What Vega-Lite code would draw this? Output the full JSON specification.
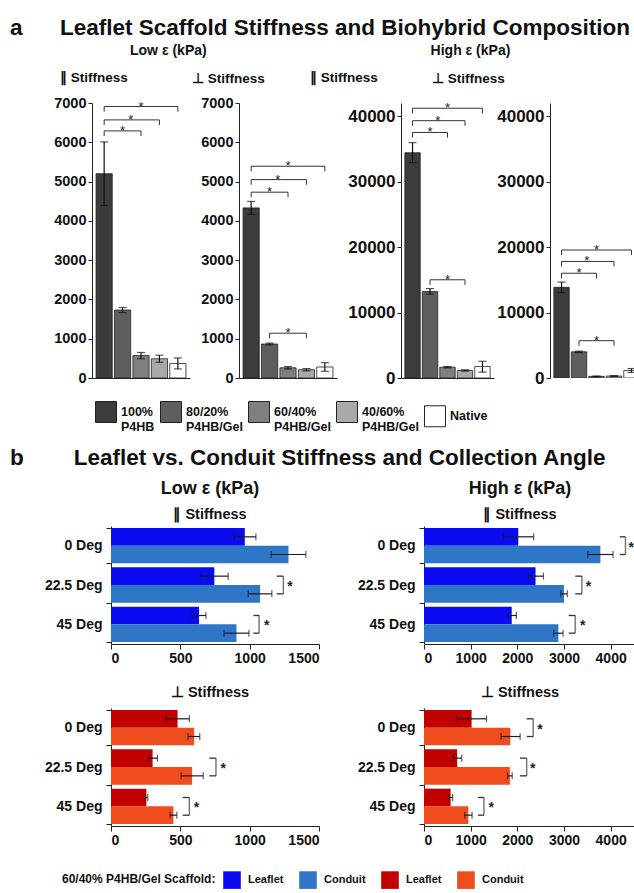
{
"$schema": "https://vega.github.io/schema/vega-lite/v6.json",
"padding": {"left": 10, "top": 17, "right": 0, "bottom": 0},
"config": {
  "view": {"stroke": null},
  "font": "Liberation Sans, Arial, sans-serif",
  "title": {"font": "Liberation Sans, Arial, sans-serif", "fontWeight": "bold", "color": "#111", "subtitleFont": "Liberation Sans, Arial, sans-serif", "subtitleFontWeight": "bold", "subtitleColor": "#111"},
  "axis": {"labelFont": "Liberation Sans, Arial, sans-serif", "labelFontWeight": "bold", "labelColor": "#111", "labelFontSize": 14, "labelOverlap": false, "domainColor": "#222", "tickColor": "#222", "grid": false},
  "legend": {"labelFont": "Liberation Sans, Arial, sans-serif", "titleFont": "Liberation Sans, Arial, sans-serif", "labelColor": "#111", "titleColor": "#111"}
},
"datasets": {
  "topbars": [
    {"panel": "Lpar", "cat": "100% P4HB", "value": 5200, "lo": 4390, "hi": 6010},
    {"panel": "Lpar", "cat": "80/20% P4HB/Gel", "value": 1730, "lo": 1665, "hi": 1795},
    {"panel": "Lpar", "cat": "60/40% P4HB/Gel", "value": 570, "lo": 490, "hi": 650},
    {"panel": "Lpar", "cat": "40/60% P4HB/Gel", "value": 490, "lo": 400, "hi": 580},
    {"panel": "Lpar", "cat": "Native", "value": 370, "lo": 230, "hi": 510},
    {"panel": "Lperp", "cat": "100% P4HB", "value": 4330, "lo": 4165, "hi": 4495},
    {"panel": "Lperp", "cat": "80/20% P4HB/Gel", "value": 865, "lo": 840, "hi": 890},
    {"panel": "Lperp", "cat": "60/40% P4HB/Gel", "value": 260, "lo": 230, "hi": 290},
    {"panel": "Lperp", "cat": "40/60% P4HB/Gel", "value": 210, "lo": 180, "hi": 240},
    {"panel": "Lperp", "cat": "Native", "value": 280, "lo": 170, "hi": 390},
    {"panel": "Hpar", "cat": "100% P4HB", "value": 34400, "lo": 32900, "hi": 35950},
    {"panel": "Hpar", "cat": "80/20% P4HB/Gel", "value": 13200, "lo": 12800, "hi": 13650},
    {"panel": "Hpar", "cat": "60/40% P4HB/Gel", "value": 1650, "lo": 1550, "hi": 1750},
    {"panel": "Hpar", "cat": "40/60% P4HB/Gel", "value": 1150, "lo": 1050, "hi": 1250},
    {"panel": "Hpar", "cat": "Native", "value": 1750, "lo": 900, "hi": 2550},
    {"panel": "Hperp", "cat": "100% P4HB", "value": 13850, "lo": 13050, "hi": 14650},
    {"panel": "Hperp", "cat": "80/20% P4HB/Gel", "value": 4000, "lo": 3900, "hi": 4100},
    {"panel": "Hperp", "cat": "60/40% P4HB/Gel", "value": 250, "lo": 190, "hi": 310},
    {"panel": "Hperp", "cat": "40/60% P4HB/Gel", "value": 300, "lo": 240, "hi": 360},
    {"panel": "Hperp", "cat": "Native", "value": 1150, "lo": 850, "hi": 1450}
  ],
  "topbr": [
    {"panel": "Lpar", "from": "100% P4HB", "to": "60/40% P4HB/Gel", "y": 6290, "ylo": 6160, "star": "80/20% P4HB/Gel", "edge": false},
    {"panel": "Lpar", "from": "100% P4HB", "to": "40/60% P4HB/Gel", "y": 6570, "ylo": 6440, "star": "80/20% P4HB/Gel", "edge": true},
    {"panel": "Lpar", "from": "100% P4HB", "to": "Native", "y": 6910, "ylo": 6780, "star": "60/40% P4HB/Gel", "edge": false},
    {"panel": "Lperp", "from": "100% P4HB", "to": "60/40% P4HB/Gel", "y": 4730, "ylo": 4600, "star": "80/20% P4HB/Gel", "edge": false},
    {"panel": "Lperp", "from": "100% P4HB", "to": "40/60% P4HB/Gel", "y": 5050, "ylo": 4920, "star": "80/20% P4HB/Gel", "edge": true},
    {"panel": "Lperp", "from": "100% P4HB", "to": "Native", "y": 5390, "ylo": 5260, "star": "60/40% P4HB/Gel", "edge": false},
    {"panel": "Lperp", "from": "80/20% P4HB/Gel", "to": "40/60% P4HB/Gel", "y": 1140, "ylo": 1010, "star": "60/40% P4HB/Gel", "edge": false},
    {"panel": "Hpar", "from": "100% P4HB", "to": "60/40% P4HB/Gel", "y": 37500, "ylo": 36720, "star": "80/20% P4HB/Gel", "edge": false},
    {"panel": "Hpar", "from": "100% P4HB", "to": "40/60% P4HB/Gel", "y": 39300, "ylo": 38520, "star": "80/20% P4HB/Gel", "edge": true},
    {"panel": "Hpar", "from": "100% P4HB", "to": "Native", "y": 41200, "ylo": 40420, "star": "60/40% P4HB/Gel", "edge": false},
    {"panel": "Hpar", "from": "80/20% P4HB/Gel", "to": "40/60% P4HB/Gel", "y": 15000, "ylo": 14220, "star": "60/40% P4HB/Gel", "edge": false},
    {"panel": "Hperp", "from": "100% P4HB", "to": "60/40% P4HB/Gel", "y": 16000, "ylo": 15220, "star": "80/20% P4HB/Gel", "edge": false},
    {"panel": "Hperp", "from": "100% P4HB", "to": "40/60% P4HB/Gel", "y": 17800, "ylo": 17020, "star": "80/20% P4HB/Gel", "edge": true},
    {"panel": "Hperp", "from": "100% P4HB", "to": "Native", "y": 19550, "ylo": 18770, "star": "60/40% P4HB/Gel", "edge": false},
    {"panel": "Hperp", "from": "80/20% P4HB/Gel", "to": "40/60% P4HB/Gel", "y": 5700, "ylo": 4920, "star": "60/40% P4HB/Gel", "edge": false}
  ],
  "bot": [
    {"panel": "Lpar", "angle": "0 Deg", "tissue": "Leaflet", "series": "Leaflet ∥", "value": 965, "lo": 885, "hi": 1045},
    {"panel": "Lpar", "angle": "0 Deg", "tissue": "Conduit", "series": "Conduit ∥", "value": 1280, "lo": 1155, "hi": 1405},
    {"panel": "Lpar", "angle": "22.5 Deg", "tissue": "Leaflet", "series": "Leaflet ∥", "value": 745, "lo": 645, "hi": 845},
    {"panel": "Lpar", "angle": "22.5 Deg", "tissue": "Conduit", "series": "Conduit ∥", "value": 1075, "lo": 990, "hi": 1160},
    {"panel": "Lpar", "angle": "45 Deg", "tissue": "Leaflet", "series": "Leaflet ∥", "value": 635, "lo": 585, "hi": 685},
    {"panel": "Lpar", "angle": "45 Deg", "tissue": "Conduit", "series": "Conduit ∥", "value": 905, "lo": 815, "hi": 995},
    {"panel": "Hpar", "angle": "0 Deg", "tissue": "Leaflet", "series": "Leaflet ∥", "value": 2020, "lo": 1700, "hi": 2350},
    {"panel": "Hpar", "angle": "0 Deg", "tissue": "Conduit", "series": "Conduit ∥", "value": 3780, "lo": 3510, "hi": 4050},
    {"panel": "Hpar", "angle": "22.5 Deg", "tissue": "Leaflet", "series": "Leaflet ∥", "value": 2390, "lo": 2240, "hi": 2560},
    {"panel": "Hpar", "angle": "22.5 Deg", "tissue": "Conduit", "series": "Conduit ∥", "value": 3000, "lo": 2930, "hi": 3070},
    {"panel": "Hpar", "angle": "45 Deg", "tissue": "Leaflet", "series": "Leaflet ∥", "value": 1880, "lo": 1800, "hi": 1980},
    {"panel": "Hpar", "angle": "45 Deg", "tissue": "Conduit", "series": "Conduit ∥", "value": 2880, "lo": 2780, "hi": 2980},
    {"panel": "Lperp", "angle": "0 Deg", "tissue": "Leaflet", "series": "Leaflet ⊥", "value": 480, "lo": 395, "hi": 565},
    {"panel": "Lperp", "angle": "0 Deg", "tissue": "Conduit", "series": "Conduit ⊥", "value": 600, "lo": 555, "hi": 640},
    {"panel": "Lperp", "angle": "22.5 Deg", "tissue": "Leaflet", "series": "Leaflet ⊥", "value": 300, "lo": 270, "hi": 335},
    {"panel": "Lperp", "angle": "22.5 Deg", "tissue": "Conduit", "series": "Conduit ⊥", "value": 585, "lo": 505, "hi": 665},
    {"panel": "Lperp", "angle": "45 Deg", "tissue": "Leaflet", "series": "Leaflet ⊥", "value": 255, "lo": 245, "hi": 265},
    {"panel": "Lperp", "angle": "45 Deg", "tissue": "Conduit", "series": "Conduit ⊥", "value": 450, "lo": 425, "hi": 475},
    {"panel": "Hperp", "angle": "0 Deg", "tissue": "Leaflet", "series": "Leaflet ⊥", "value": 1020, "lo": 710, "hi": 1340},
    {"panel": "Hperp", "angle": "0 Deg", "tissue": "Conduit", "series": "Conduit ⊥", "value": 1850, "lo": 1650, "hi": 2060},
    {"panel": "Hperp", "angle": "22.5 Deg", "tissue": "Leaflet", "series": "Leaflet ⊥", "value": 710, "lo": 630, "hi": 810},
    {"panel": "Hperp", "angle": "22.5 Deg", "tissue": "Conduit", "series": "Conduit ⊥", "value": 1840, "lo": 1790, "hi": 1890},
    {"panel": "Hperp", "angle": "45 Deg", "tissue": "Leaflet", "series": "Leaflet ⊥", "value": 570, "lo": 530, "hi": 615},
    {"panel": "Hperp", "angle": "45 Deg", "tissue": "Conduit", "series": "Conduit ⊥", "value": 950, "lo": 870, "hi": 1030}
  ],
  "botbr": [
    {"panel": "Lpar", "angle": "22.5 Deg", "left": 1195, "right": 1243, "star": 1291},
    {"panel": "Lpar", "angle": "45 Deg", "left": 1027, "right": 1068, "star": 1123},
    {"panel": "Hpar", "angle": "0 Deg", "left": 4195, "right": 4317, "star": 4440},
    {"panel": "Hpar", "angle": "22.5 Deg", "left": 3240, "right": 3383, "star": 3525},
    {"panel": "Hpar", "angle": "45 Deg", "left": 3100, "right": 3240, "star": 3400},
    {"panel": "Lperp", "angle": "22.5 Deg", "left": 709, "right": 757, "star": 810},
    {"panel": "Lperp", "angle": "45 Deg", "left": 517, "right": 565, "star": 616},
    {"panel": "Hperp", "angle": "0 Deg", "left": 2200, "right": 2340, "star": 2485},
    {"panel": "Hperp", "angle": "22.5 Deg", "left": 2055, "right": 2200, "star": 2328},
    {"panel": "Hperp", "angle": "45 Deg", "left": 1156, "right": 1285, "star": 1443}
  ]
},
"resolve": {"scale": {"color": "independent"}},
"spacing": 14,
"vconcat": [
{
  "title": {"text": "a\u00a0\u00a0\u00a0\u00a0\u00a0\u00a0Leaflet Scaffold Stiffness and Biohybrid Composition", "anchor": "start", "frame": "group", "dx": -82, "fontSize": 22.5, "offset": 4},
  "bounds": "flush",
  "spacing": 49,
  "hconcat": [
    {
      "width": 98, "height": 275,
      "title": {"text": "\u200b\u00a0\u00a0\u00a0\u00a0\u00a0\u00a0\u00a0\u00a0\u00a0\u00a0\u00a0\u00a0\u00a0\u00a0\u00a0\u00a0\u00a0\u00a0Low ε (kPa)", "subtitle": "∥ Stiffness", "anchor": "start", "frame": "group", "dx": -32, "fontSize": 14, "subtitleFontSize": 13.5, "subtitlePadding": 13, "offset": 11},
      "layer": [
        {"data": {"name": "topbars"}, "transform": [{"filter": "datum.panel==='Lpar'"}],
         "mark": {"type": "bar", "stroke": "#222", "strokeWidth": 0.8},
         "encoding": {
           "x": {"field": "cat", "type": "nominal", "title": null, "scale": {"domain": ["100% P4HB","80/20% P4HB/Gel","60/40% P4HB/Gel","40/60% P4HB/Gel","Native"], "paddingInner": 0.12, "paddingOuter": 0.22}, "axis": {"labels": false, "ticks": false, "title": null}},
           "y": {"field": "value", "type": "quantitative", "title": null, "scale": {"domain": [0, 7000]}, "axis": {"values": [0,1000,2000,3000,4000,5000,6000,7000], "tickCount": 10, "format": "d", "tickSize": 4, "labelPadding": 2, "labelFontSize": 14.5, "labelOverlap": false, "title": null}},
           "color": {"field": "cat", "type": "nominal", "scale": {"domain": ["100% P4HB","80/20% P4HB/Gel","60/40% P4HB/Gel","40/60% P4HB/Gel","Native"], "range": ["#3c3c3c","#5e5e5e","#7f7f7f","#a9a9a9","#ffffff"]}, "legend": {"orient": "none", "legendX": 3, "legendY": 298, "direction": "horizontal", "title": null, "symbolType": "square", "symbolSize": 440, "symbolStrokeColor": "#222", "symbolStrokeWidth": 1, "labelFontSize": 12.5, "labelFontWeight": "bold", "labelExpr": "split(datum.label, ' ')", "columnPadding": 3, "labelOffset": 4}}
         }},
        {"data": {"name": "topbars"}, "transform": [{"filter": "datum.panel==='Lpar'"}],
         "mark": {"type": "rule", "color": "#111", "strokeWidth": 1.2},
         "encoding": {
           "x": {"field": "cat", "type": "nominal", "title": null, "scale": {"domain": ["100% P4HB","80/20% P4HB/Gel","60/40% P4HB/Gel","40/60% P4HB/Gel","Native"], "paddingInner": 0.12, "paddingOuter": 0.22}},
           "y": {"field": "lo", "type": "quantitative", "title": null, "scale": {"domain": [0, 7000]}},
           "y2": {"field": "hi"}
         }},
        {"data": {"name": "topbars"}, "transform": [{"filter": "datum.panel==='Lpar'"}],
         "mark": {"type": "tick", "color": "#111", "size": 8, "thickness": 1.2},
         "encoding": {
           "x": {"field": "cat", "type": "nominal", "title": null, "scale": {"domain": ["100% P4HB","80/20% P4HB/Gel","60/40% P4HB/Gel","40/60% P4HB/Gel","Native"], "paddingInner": 0.12, "paddingOuter": 0.22}},
           "y": {"field": "lo", "type": "quantitative", "title": null, "scale": {"domain": [0, 7000]}}
         }},
        {"data": {"name": "topbars"}, "transform": [{"filter": "datum.panel==='Lpar'"}],
         "mark": {"type": "tick", "color": "#111", "size": 8, "thickness": 1.2},
         "encoding": {
           "x": {"field": "cat", "type": "nominal", "title": null, "scale": {"domain": ["100% P4HB","80/20% P4HB/Gel","60/40% P4HB/Gel","40/60% P4HB/Gel","Native"], "paddingInner": 0.12, "paddingOuter": 0.22}},
           "y": {"field": "hi", "type": "quantitative", "title": null, "scale": {"domain": [0, 7000]}}
         }},
        {"data": {"name": "topbr"}, "transform": [{"filter": "datum.panel==='Lpar'"}],
         "mark": {"type": "rule", "color": "#333", "strokeWidth": 1},
         "encoding": {
           "x": {"field": "from", "type": "nominal", "title": null, "scale": {"domain": ["100% P4HB","80/20% P4HB/Gel","60/40% P4HB/Gel","40/60% P4HB/Gel","Native"], "paddingInner": 0.12, "paddingOuter": 0.22}},
           "x2": {"field": "to"},
           "y": {"field": "y", "type": "quantitative", "title": null, "scale": {"domain": [0, 7000]}}
         }},
        {"data": {"name": "topbr"}, "transform": [{"filter": "datum.panel==='Lpar'"}],
         "mark": {"type": "rule", "color": "#333", "strokeWidth": 1},
         "encoding": {
           "x": {"field": "from", "type": "nominal", "title": null, "scale": {"domain": ["100% P4HB","80/20% P4HB/Gel","60/40% P4HB/Gel","40/60% P4HB/Gel","Native"], "paddingInner": 0.12, "paddingOuter": 0.22}},
           "y": {"field": "ylo", "type": "quantitative", "title": null, "scale": {"domain": [0, 7000]}},
           "y2": {"field": "y"}
         }},
        {"data": {"name": "topbr"}, "transform": [{"filter": "datum.panel==='Lpar'"}],
         "mark": {"type": "rule", "color": "#333", "strokeWidth": 1},
         "encoding": {
           "x": {"field": "to", "type": "nominal", "title": null, "scale": {"domain": ["100% P4HB","80/20% P4HB/Gel","60/40% P4HB/Gel","40/60% P4HB/Gel","Native"], "paddingInner": 0.12, "paddingOuter": 0.22}},
           "y": {"field": "ylo", "type": "quantitative", "title": null, "scale": {"domain": [0, 7000]}},
           "y2": {"field": "y"}
         }},
        {"data": {"name": "topbr"}, "transform": [{"filter": "datum.panel==='Lpar' && !datum.edge"}],
         "mark": {"type": "text", "text": "*", "fontSize": 13, "dy": 4, "baseline": "alphabetic", "color": "#222"},
         "encoding": {
           "x": {"field": "star", "type": "nominal", "title": null, "scale": {"domain": ["100% P4HB","80/20% P4HB/Gel","60/40% P4HB/Gel","40/60% P4HB/Gel","Native"], "paddingInner": 0.12, "paddingOuter": 0.22}},
           "y": {"field": "y", "type": "quantitative", "title": null, "scale": {"domain": [0, 7000]}}
         }},
        {"data": {"name": "topbr"}, "transform": [{"filter": "datum.panel==='Lpar' && datum.edge"}],
         "mark": {"type": "text", "text": "*", "fontSize": 13, "dy": 4, "baseline": "alphabetic", "color": "#222"},
         "encoding": {
           "x": {"field": "star", "type": "nominal", "title": null, "bandPosition": 1, "scale": {"domain": ["100% P4HB","80/20% P4HB/Gel","60/40% P4HB/Gel","40/60% P4HB/Gel","Native"], "paddingInner": 0.12, "paddingOuter": 0.22}},
           "y": {"field": "y", "type": "quantitative", "title": null, "scale": {"domain": [0, 7000]}}
         }}
      ]
    },
    {
      "width": 113, "height": 275,
      "title": {"text": "⊥ Stiffness", "anchor": "start", "frame": "group", "dx": -47, "fontSize": 13.5, "offset": 10},
      "layer": [
        {"data": {"name": "topbars"}, "transform": [{"filter": "datum.panel==='Lperp'"}],
         "mark": {"type": "bar", "stroke": "#222", "strokeWidth": 0.8},
         "encoding": {
           "x": {"field": "cat", "type": "nominal", "title": null, "scale": {"domain": ["100% P4HB","80/20% P4HB/Gel","60/40% P4HB/Gel","40/60% P4HB/Gel","Native"], "paddingInner": 0.12, "paddingOuter": 0.22, "range": [0, 98]}, "axis": {"labels": false, "ticks": false, "title": null}},
           "y": {"field": "value", "type": "quantitative", "title": null, "scale": {"domain": [0, 7000]}, "axis": {"values": [0,1000,2000,3000,4000,5000,6000,7000], "tickCount": 10, "format": "d", "tickSize": 4, "labelPadding": 2, "labelFontSize": 14.5, "labelOverlap": false, "title": null}},
           "color": {"field": "cat", "type": "nominal", "scale": {"domain": ["100% P4HB","80/20% P4HB/Gel","60/40% P4HB/Gel","40/60% P4HB/Gel","Native"], "range": ["#3c3c3c","#5e5e5e","#7f7f7f","#a9a9a9","#ffffff"]}, "legend": {"orient": "none", "legendX": 3, "legendY": 298, "direction": "horizontal", "title": null, "symbolType": "square", "symbolSize": 440, "symbolStrokeColor": "#222", "symbolStrokeWidth": 1, "labelFontSize": 12.5, "labelFontWeight": "bold", "labelExpr": "split(datum.label, ' ')", "columnPadding": 3, "labelOffset": 4}}
         }},
        {"data": {"name": "topbars"}, "transform": [{"filter": "datum.panel==='Lperp'"}],
         "mark": {"type": "rule", "color": "#111", "strokeWidth": 1.2},
         "encoding": {
           "x": {"field": "cat", "type": "nominal", "title": null, "scale": {"domain": ["100% P4HB","80/20% P4HB/Gel","60/40% P4HB/Gel","40/60% P4HB/Gel","Native"], "paddingInner": 0.12, "paddingOuter": 0.22, "range": [0, 98]}},
           "y": {"field": "lo", "type": "quantitative", "title": null, "scale": {"domain": [0, 7000]}},
           "y2": {"field": "hi"}
         }},
        {"data": {"name": "topbars"}, "transform": [{"filter": "datum.panel==='Lperp'"}],
         "mark": {"type": "tick", "color": "#111", "size": 8, "thickness": 1.2},
         "encoding": {
           "x": {"field": "cat", "type": "nominal", "title": null, "scale": {"domain": ["100% P4HB","80/20% P4HB/Gel","60/40% P4HB/Gel","40/60% P4HB/Gel","Native"], "paddingInner": 0.12, "paddingOuter": 0.22, "range": [0, 98]}},
           "y": {"field": "lo", "type": "quantitative", "title": null, "scale": {"domain": [0, 7000]}}
         }},
        {"data": {"name": "topbars"}, "transform": [{"filter": "datum.panel==='Lperp'"}],
         "mark": {"type": "tick", "color": "#111", "size": 8, "thickness": 1.2},
         "encoding": {
           "x": {"field": "cat", "type": "nominal", "title": null, "scale": {"domain": ["100% P4HB","80/20% P4HB/Gel","60/40% P4HB/Gel","40/60% P4HB/Gel","Native"], "paddingInner": 0.12, "paddingOuter": 0.22, "range": [0, 98]}},
           "y": {"field": "hi", "type": "quantitative", "title": null, "scale": {"domain": [0, 7000]}}
         }},
        {"data": {"name": "topbr"}, "transform": [{"filter": "datum.panel==='Lperp'"}],
         "mark": {"type": "rule", "color": "#333", "strokeWidth": 1},
         "encoding": {
           "x": {"field": "from", "type": "nominal", "title": null, "scale": {"domain": ["100% P4HB","80/20% P4HB/Gel","60/40% P4HB/Gel","40/60% P4HB/Gel","Native"], "paddingInner": 0.12, "paddingOuter": 0.22, "range": [0, 98]}},
           "x2": {"field": "to"},
           "y": {"field": "y", "type": "quantitative", "title": null, "scale": {"domain": [0, 7000]}}
         }},
        {"data": {"name": "topbr"}, "transform": [{"filter": "datum.panel==='Lperp'"}],
         "mark": {"type": "rule", "color": "#333", "strokeWidth": 1},
         "encoding": {
           "x": {"field": "from", "type": "nominal", "title": null, "scale": {"domain": ["100% P4HB","80/20% P4HB/Gel","60/40% P4HB/Gel","40/60% P4HB/Gel","Native"], "paddingInner": 0.12, "paddingOuter": 0.22, "range": [0, 98]}},
           "y": {"field": "ylo", "type": "quantitative", "title": null, "scale": {"domain": [0, 7000]}},
           "y2": {"field": "y"}
         }},
        {"data": {"name": "topbr"}, "transform": [{"filter": "datum.panel==='Lperp'"}],
         "mark": {"type": "rule", "color": "#333", "strokeWidth": 1},
         "encoding": {
           "x": {"field": "to", "type": "nominal", "title": null, "scale": {"domain": ["100% P4HB","80/20% P4HB/Gel","60/40% P4HB/Gel","40/60% P4HB/Gel","Native"], "paddingInner": 0.12, "paddingOuter": 0.22, "range": [0, 98]}},
           "y": {"field": "ylo", "type": "quantitative", "title": null, "scale": {"domain": [0, 7000]}},
           "y2": {"field": "y"}
         }},
        {"data": {"name": "topbr"}, "transform": [{"filter": "datum.panel==='Lperp' && !datum.edge"}],
         "mark": {"type": "text", "text": "*", "fontSize": 13, "dy": 4, "baseline": "alphabetic", "color": "#222"},
         "encoding": {
           "x": {"field": "star", "type": "nominal", "title": null, "scale": {"domain": ["100% P4HB","80/20% P4HB/Gel","60/40% P4HB/Gel","40/60% P4HB/Gel","Native"], "paddingInner": 0.12, "paddingOuter": 0.22, "range": [0, 98]}},
           "y": {"field": "y", "type": "quantitative", "title": null, "scale": {"domain": [0, 7000]}}
         }},
        {"data": {"name": "topbr"}, "transform": [{"filter": "datum.panel==='Lperp' && datum.edge"}],
         "mark": {"type": "text", "text": "*", "fontSize": 13, "dy": 4, "baseline": "alphabetic", "color": "#222"},
         "encoding": {
           "x": {"field": "star", "type": "nominal", "title": null, "bandPosition": 1, "scale": {"domain": ["100% P4HB","80/20% P4HB/Gel","60/40% P4HB/Gel","40/60% P4HB/Gel","Native"], "paddingInner": 0.12, "paddingOuter": 0.22, "range": [0, 98]}},
           "y": {"field": "y", "type": "quantitative", "title": null, "scale": {"domain": [0, 7000]}}
         }}
      ]
    },
    {
      "width": 100, "height": 275,
      "title": {"text": "\u200b\u00a0\u00a0\u00a0\u00a0\u00a0\u00a0\u00a0\u00a0\u00a0\u00a0\u00a0\u00a0\u00a0\u00a0\u00a0\u00a0\u00a0\u00a0\u00a0\u00a0\u00a0\u00a0\u00a0\u00a0\u00a0\u00a0\u00a0\u00a0\u00a0\u00a0\u00a0High ε (kPa)", "subtitle": "∥ Stiffness", "anchor": "start", "frame": "group", "dx": -91, "fontSize": 14, "subtitleFontSize": 13.5, "subtitlePadding": 13, "offset": 18},
      "layer": [
        {"data": {"name": "topbars"}, "transform": [{"filter": "datum.panel==='Hpar'"}],
         "mark": {"type": "bar", "stroke": "#222", "strokeWidth": 0.8},
         "encoding": {
           "x": {"field": "cat", "type": "nominal", "title": null, "scale": {"domain": ["100% P4HB","80/20% P4HB/Gel","60/40% P4HB/Gel","40/60% P4HB/Gel","Native"], "paddingInner": 0.12, "paddingOuter": 0.22, "range": [0, 93]}, "axis": {"labels": false, "ticks": false, "title": null}},
           "y": {"field": "value", "type": "quantitative", "title": null, "scale": {"domain": [0, 42000]}, "axis": {"values": [0,10000,20000,30000,40000], "tickCount": 10, "format": "d", "tickSize": 4, "labelPadding": 2, "labelFontSize": 17, "title": null}},
           "color": {"field": "cat", "type": "nominal", "scale": {"domain": ["100% P4HB","80/20% P4HB/Gel","60/40% P4HB/Gel","40/60% P4HB/Gel","Native"], "range": ["#3c3c3c","#5e5e5e","#7f7f7f","#a9a9a9","#ffffff"]}, "legend": {"orient": "none", "legendX": 3, "legendY": 298, "direction": "horizontal", "title": null, "symbolType": "square", "symbolSize": 440, "symbolStrokeColor": "#222", "symbolStrokeWidth": 1, "labelFontSize": 12.5, "labelFontWeight": "bold", "labelExpr": "split(datum.label, ' ')", "columnPadding": 3, "labelOffset": 4}}
         }},
        {"data": {"name": "topbars"}, "transform": [{"filter": "datum.panel==='Hpar'"}],
         "mark": {"type": "rule", "color": "#111", "strokeWidth": 1.2},
         "encoding": {
           "x": {"field": "cat", "type": "nominal", "title": null, "scale": {"domain": ["100% P4HB","80/20% P4HB/Gel","60/40% P4HB/Gel","40/60% P4HB/Gel","Native"], "paddingInner": 0.12, "paddingOuter": 0.22, "range": [0, 93]}},
           "y": {"field": "lo", "type": "quantitative", "title": null, "scale": {"domain": [0, 42000]}},
           "y2": {"field": "hi"}
         }},
        {"data": {"name": "topbars"}, "transform": [{"filter": "datum.panel==='Hpar'"}],
         "mark": {"type": "tick", "color": "#111", "size": 8, "thickness": 1.2},
         "encoding": {
           "x": {"field": "cat", "type": "nominal", "title": null, "scale": {"domain": ["100% P4HB","80/20% P4HB/Gel","60/40% P4HB/Gel","40/60% P4HB/Gel","Native"], "paddingInner": 0.12, "paddingOuter": 0.22, "range": [0, 93]}},
           "y": {"field": "lo", "type": "quantitative", "title": null, "scale": {"domain": [0, 42000]}}
         }},
        {"data": {"name": "topbars"}, "transform": [{"filter": "datum.panel==='Hpar'"}],
         "mark": {"type": "tick", "color": "#111", "size": 8, "thickness": 1.2},
         "encoding": {
           "x": {"field": "cat", "type": "nominal", "title": null, "scale": {"domain": ["100% P4HB","80/20% P4HB/Gel","60/40% P4HB/Gel","40/60% P4HB/Gel","Native"], "paddingInner": 0.12, "paddingOuter": 0.22, "range": [0, 93]}},
           "y": {"field": "hi", "type": "quantitative", "title": null, "scale": {"domain": [0, 42000]}}
         }},
        {"data": {"name": "topbr"}, "transform": [{"filter": "datum.panel==='Hpar'"}],
         "mark": {"type": "rule", "color": "#333", "strokeWidth": 1},
         "encoding": {
           "x": {"field": "from", "type": "nominal", "title": null, "scale": {"domain": ["100% P4HB","80/20% P4HB/Gel","60/40% P4HB/Gel","40/60% P4HB/Gel","Native"], "paddingInner": 0.12, "paddingOuter": 0.22, "range": [0, 93]}},
           "x2": {"field": "to"},
           "y": {"field": "y", "type": "quantitative", "title": null, "scale": {"domain": [0, 42000]}}
         }},
        {"data": {"name": "topbr"}, "transform": [{"filter": "datum.panel==='Hpar'"}],
         "mark": {"type": "rule", "color": "#333", "strokeWidth": 1},
         "encoding": {
           "x": {"field": "from", "type": "nominal", "title": null, "scale": {"domain": ["100% P4HB","80/20% P4HB/Gel","60/40% P4HB/Gel","40/60% P4HB/Gel","Native"], "paddingInner": 0.12, "paddingOuter": 0.22, "range": [0, 93]}},
           "y": {"field": "ylo", "type": "quantitative", "title": null, "scale": {"domain": [0, 42000]}},
           "y2": {"field": "y"}
         }},
        {"data": {"name": "topbr"}, "transform": [{"filter": "datum.panel==='Hpar'"}],
         "mark": {"type": "rule", "color": "#333", "strokeWidth": 1},
         "encoding": {
           "x": {"field": "to", "type": "nominal", "title": null, "scale": {"domain": ["100% P4HB","80/20% P4HB/Gel","60/40% P4HB/Gel","40/60% P4HB/Gel","Native"], "paddingInner": 0.12, "paddingOuter": 0.22, "range": [0, 93]}},
           "y": {"field": "ylo", "type": "quantitative", "title": null, "scale": {"domain": [0, 42000]}},
           "y2": {"field": "y"}
         }},
        {"data": {"name": "topbr"}, "transform": [{"filter": "datum.panel==='Hpar' && !datum.edge"}],
         "mark": {"type": "text", "text": "*", "fontSize": 13, "dy": 4, "baseline": "alphabetic", "color": "#222"},
         "encoding": {
           "x": {"field": "star", "type": "nominal", "title": null, "scale": {"domain": ["100% P4HB","80/20% P4HB/Gel","60/40% P4HB/Gel","40/60% P4HB/Gel","Native"], "paddingInner": 0.12, "paddingOuter": 0.22, "range": [0, 93]}},
           "y": {"field": "y", "type": "quantitative", "title": null, "scale": {"domain": [0, 42000]}}
         }},
        {"data": {"name": "topbr"}, "transform": [{"filter": "datum.panel==='Hpar' && datum.edge"}],
         "mark": {"type": "text", "text": "*", "fontSize": 13, "dy": 4, "baseline": "alphabetic", "color": "#222"},
         "encoding": {
           "x": {"field": "star", "type": "nominal", "title": null, "bandPosition": 1, "scale": {"domain": ["100% P4HB","80/20% P4HB/Gel","60/40% P4HB/Gel","40/60% P4HB/Gel","Native"], "paddingInner": 0.12, "paddingOuter": 0.22, "range": [0, 93]}},
           "y": {"field": "y", "type": "quantitative", "title": null, "scale": {"domain": [0, 42000]}}
         }}
      ]
    },
    {
      "width": 84, "height": 275,
      "title": {"text": "⊥ Stiffness", "anchor": "start", "frame": "group", "dx": -118, "fontSize": 13.5, "offset": 18},
      "layer": [
        {"data": {"name": "topbars"}, "transform": [{"filter": "datum.panel==='Hperp'"}],
         "mark": {"type": "bar", "stroke": "#222", "strokeWidth": 0.8, "clip": true},
         "encoding": {
           "x": {"field": "cat", "type": "nominal", "title": null, "scale": {"domain": ["100% P4HB","80/20% P4HB/Gel","60/40% P4HB/Gel","40/60% P4HB/Gel","Native"], "paddingInner": 0.12, "paddingOuter": 0.22, "range": [0, 93]}, "axis": null},
           "y": {"field": "value", "type": "quantitative", "title": null, "scale": {"domain": [0, 42000]}, "axis": {"values": [0,10000,20000,30000,40000], "tickCount": 10, "format": "d", "tickSize": 4, "labelPadding": 2, "labelFontSize": 17, "title": null}},
           "color": {"field": "cat", "type": "nominal", "scale": {"domain": ["100% P4HB","80/20% P4HB/Gel","60/40% P4HB/Gel","40/60% P4HB/Gel","Native"], "range": ["#3c3c3c","#5e5e5e","#7f7f7f","#a9a9a9","#ffffff"]}, "legend": {"orient": "none", "legendX": 3, "legendY": 298, "direction": "horizontal", "title": null, "symbolType": "square", "symbolSize": 440, "symbolStrokeColor": "#222", "symbolStrokeWidth": 1, "labelFontSize": 12.5, "labelFontWeight": "bold", "labelExpr": "split(datum.label, ' ')", "columnPadding": 3, "labelOffset": 4}}
         }},
        {"data": {"name": "topbars"}, "transform": [{"filter": "datum.panel==='Hperp'"}],
         "mark": {"type": "rule", "color": "#111", "strokeWidth": 1.2, "clip": true},
         "encoding": {
           "x": {"field": "cat", "type": "nominal", "title": null, "scale": {"domain": ["100% P4HB","80/20% P4HB/Gel","60/40% P4HB/Gel","40/60% P4HB/Gel","Native"], "paddingInner": 0.12, "paddingOuter": 0.22, "range": [0, 93]}},
           "y": {"field": "lo", "type": "quantitative", "title": null, "scale": {"domain": [0, 42000]}},
           "y2": {"field": "hi"}
         }},
        {"data": {"name": "topbars"}, "transform": [{"filter": "datum.panel==='Hperp'"}],
         "mark": {"type": "tick", "color": "#111", "size": 8, "thickness": 1.2, "clip": true},
         "encoding": {
           "x": {"field": "cat", "type": "nominal", "title": null, "scale": {"domain": ["100% P4HB","80/20% P4HB/Gel","60/40% P4HB/Gel","40/60% P4HB/Gel","Native"], "paddingInner": 0.12, "paddingOuter": 0.22, "range": [0, 93]}},
           "y": {"field": "lo", "type": "quantitative", "title": null, "scale": {"domain": [0, 42000]}}
         }},
        {"data": {"name": "topbars"}, "transform": [{"filter": "datum.panel==='Hperp'"}],
         "mark": {"type": "tick", "color": "#111", "size": 8, "thickness": 1.2, "clip": true},
         "encoding": {
           "x": {"field": "cat", "type": "nominal", "title": null, "scale": {"domain": ["100% P4HB","80/20% P4HB/Gel","60/40% P4HB/Gel","40/60% P4HB/Gel","Native"], "paddingInner": 0.12, "paddingOuter": 0.22, "range": [0, 93]}},
           "y": {"field": "hi", "type": "quantitative", "title": null, "scale": {"domain": [0, 42000]}}
         }},
        {"data": {"name": "topbr"}, "transform": [{"filter": "datum.panel==='Hperp'"}],
         "mark": {"type": "rule", "color": "#333", "strokeWidth": 1, "clip": true},
         "encoding": {
           "x": {"field": "from", "type": "nominal", "title": null, "scale": {"domain": ["100% P4HB","80/20% P4HB/Gel","60/40% P4HB/Gel","40/60% P4HB/Gel","Native"], "paddingInner": 0.12, "paddingOuter": 0.22, "range": [0, 93]}},
           "x2": {"field": "to"},
           "y": {"field": "y", "type": "quantitative", "title": null, "scale": {"domain": [0, 42000]}}
         }},
        {"data": {"name": "topbr"}, "transform": [{"filter": "datum.panel==='Hperp'"}],
         "mark": {"type": "rule", "color": "#333", "strokeWidth": 1, "clip": true},
         "encoding": {
           "x": {"field": "from", "type": "nominal", "title": null, "scale": {"domain": ["100% P4HB","80/20% P4HB/Gel","60/40% P4HB/Gel","40/60% P4HB/Gel","Native"], "paddingInner": 0.12, "paddingOuter": 0.22, "range": [0, 93]}},
           "y": {"field": "ylo", "type": "quantitative", "title": null, "scale": {"domain": [0, 42000]}},
           "y2": {"field": "y"}
         }},
        {"data": {"name": "topbr"}, "transform": [{"filter": "datum.panel==='Hperp'"}],
         "mark": {"type": "rule", "color": "#333", "strokeWidth": 1, "clip": true},
         "encoding": {
           "x": {"field": "to", "type": "nominal", "title": null, "scale": {"domain": ["100% P4HB","80/20% P4HB/Gel","60/40% P4HB/Gel","40/60% P4HB/Gel","Native"], "paddingInner": 0.12, "paddingOuter": 0.22, "range": [0, 93]}},
           "y": {"field": "ylo", "type": "quantitative", "title": null, "scale": {"domain": [0, 42000]}},
           "y2": {"field": "y"}
         }},
        {"data": {"name": "topbr"}, "transform": [{"filter": "datum.panel==='Hperp' && !datum.edge"}],
         "mark": {"type": "text", "text": "*", "fontSize": 13, "dy": 4, "baseline": "alphabetic", "color": "#222", "clip": true},
         "encoding": {
           "x": {"field": "star", "type": "nominal", "title": null, "scale": {"domain": ["100% P4HB","80/20% P4HB/Gel","60/40% P4HB/Gel","40/60% P4HB/Gel","Native"], "paddingInner": 0.12, "paddingOuter": 0.22, "range": [0, 93]}},
           "y": {"field": "y", "type": "quantitative", "title": null, "scale": {"domain": [0, 42000]}}
         }},
        {"data": {"name": "topbr"}, "transform": [{"filter": "datum.panel==='Hperp' && datum.edge"}],
         "mark": {"type": "text", "text": "*", "fontSize": 13, "dy": 4, "baseline": "alphabetic", "color": "#222", "clip": true},
         "encoding": {
           "x": {"field": "star", "type": "nominal", "title": null, "bandPosition": 1, "scale": {"domain": ["100% P4HB","80/20% P4HB/Gel","60/40% P4HB/Gel","40/60% P4HB/Gel","Native"], "paddingInner": 0.12, "paddingOuter": 0.22, "range": [0, 93]}},
           "y": {"field": "y", "type": "quantitative", "title": null, "scale": {"domain": [0, 42000]}}
         }},
        {"mark": {"type": "rule", "color": "#222", "strokeWidth": 1},
         "encoding": {"y": {"datum": 0, "type": "quantitative", "scale": {"domain": [0, 42000]}}}}
      ]
    }
  ]
},
{
  "title": {"text": "b\u00a0\u00a0\u00a0\u00a0\u00a0\u00a0\u00a0\u00a0Leaflet vs. Conduit Stiffness and Collection Angle", "anchor": "start", "frame": "group", "dx": -82, "fontSize": 22.5, "offset": 10},
  "bounds": "flush",
  "columns": 2,
  "spacing": {"row": 64, "column": 105},
  "concat": [
    {
      "width": 227, "height": 118,
      "title": {"text": "Low ε (kPa)", "subtitle": "∥ Stiffness", "anchor": "middle", "frame": "group", "dx": 4.5, "fontSize": 18, "subtitleFontSize": 14.5, "subtitlePadding": 10, "offset": -2},
      "layer": [
        {"data": {"name": "bot"}, "transform": [{"filter": "datum.panel==='Lpar'"}],
         "mark": {"type": "bar"},
         "encoding": {
           "y": {"field": "angle", "type": "nominal", "title": null, "scale": {"domain": ["0 Deg","22.5 Deg","45 Deg"], "paddingInner": 0.1, "paddingOuter": 0.05}, "axis": {"title": null, "tickBand": "extent", "tickSize": 5, "labelPadding": 4, "offset": -19}},
           "yOffset": {"field": "tissue", "type": "nominal", "scale": {"domain": ["Leaflet","Conduit"]}},
           "x": {"field": "value", "type": "quantitative", "title": null, "scale": {"domain": [0, 1500], "range": [19, 227]}, "axis": {"values": [0,500,1000,1500], "format": "d", "tickSize": 5, "title": null}},
           "color": {"field": "series", "type": "nominal", "scale": {"domain": ["Leaflet ∥","Conduit ∥","Leaflet ⊥","Conduit ⊥"], "range": ["#0b0bf2","#2f76c6","#c20000","#ef4d1d"]}, "legend": {"orient": "none", "legendX": -30, "legendY": 344, "direction": "horizontal", "title": "60/40% P4HB/Gel Scaffold:", "titleOrient": "left", "titleFontSize": 12, "titleFontWeight": "bold", "titlePadding": 6, "titleLimit": 300, "titleAnchor": "middle", "titleBaseline": "middle", "symbolType": "square", "symbolSize": 310, "labelExpr": "split(datum.label, ' ')[0]", "labelFontSize": 11, "labelFontWeight": "bold", "columnPadding": 14, "labelOffset": 6}}
         }},
        {"data": {"name": "bot"}, "transform": [{"filter": "datum.panel==='Lpar'"}],
         "mark": {"type": "rule", "color": "#1a1a2a", "strokeWidth": 1.2},
         "encoding": {
           "y": {"field": "angle", "type": "nominal", "title": null, "scale": {"domain": ["0 Deg","22.5 Deg","45 Deg"], "paddingInner": 0.1, "paddingOuter": 0.05}},
           "yOffset": {"field": "tissue", "type": "nominal", "scale": {"domain": ["Leaflet","Conduit"]}},
           "x": {"field": "lo", "type": "quantitative", "title": null, "scale": {"domain": [0, 1500], "range": [19, 227]}},
           "x2": {"field": "hi"}
         }},
        {"data": {"name": "bot"}, "transform": [{"filter": "datum.panel==='Lpar'"}],
         "mark": {"type": "tick", "color": "#1a1a2a", "size": 7, "thickness": 1.2},
         "encoding": {
           "y": {"field": "angle", "type": "nominal", "title": null, "scale": {"domain": ["0 Deg","22.5 Deg","45 Deg"], "paddingInner": 0.1, "paddingOuter": 0.05}},
           "yOffset": {"field": "tissue", "type": "nominal", "scale": {"domain": ["Leaflet","Conduit"]}},
           "x": {"field": "lo", "type": "quantitative", "title": null, "scale": {"domain": [0, 1500], "range": [19, 227]}}
         }},
        {"data": {"name": "bot"}, "transform": [{"filter": "datum.panel==='Lpar'"}],
         "mark": {"type": "tick", "color": "#1a1a2a", "size": 7, "thickness": 1.2},
         "encoding": {
           "y": {"field": "angle", "type": "nominal", "title": null, "scale": {"domain": ["0 Deg","22.5 Deg","45 Deg"], "paddingInner": 0.1, "paddingOuter": 0.05}},
           "yOffset": {"field": "tissue", "type": "nominal", "scale": {"domain": ["Leaflet","Conduit"]}},
           "x": {"field": "hi", "type": "quantitative", "title": null, "scale": {"domain": [0, 1500], "range": [19, 227]}}
         }},
        {"data": {"name": "botbr"}, "transform": [{"filter": "datum.panel==='Lpar'"}],
         "mark": {"type": "rule", "color": "#333", "strokeWidth": 1.3},
         "encoding": {
           "y": {"field": "angle", "type": "nominal", "title": null, "scale": {"domain": ["0 Deg","22.5 Deg","45 Deg"], "paddingInner": 0.1, "paddingOuter": 0.05}},
           "yOffset": {"datum": "Leaflet", "scale": {"domain": ["Leaflet","Conduit"]}},
           "x": {"field": "left", "type": "quantitative", "title": null, "scale": {"domain": [0, 1500], "range": [19, 227]}},
           "x2": {"field": "right"}
         }},
        {"data": {"name": "botbr"}, "transform": [{"filter": "datum.panel==='Lpar'"}],
         "mark": {"type": "rule", "color": "#333", "strokeWidth": 1.3},
         "encoding": {
           "y": {"field": "angle", "type": "nominal", "title": null, "scale": {"domain": ["0 Deg","22.5 Deg","45 Deg"], "paddingInner": 0.1, "paddingOuter": 0.05}},
           "yOffset": {"datum": "Conduit", "scale": {"domain": ["Leaflet","Conduit"]}},
           "x": {"field": "left", "type": "quantitative", "title": null, "scale": {"domain": [0, 1500], "range": [19, 227]}},
           "x2": {"field": "right"}
         }},
        {"data": {"name": "botbr"}, "transform": [{"filter": "datum.panel==='Lpar'"}],
         "mark": {"type": "tick", "color": "#333", "size": 18, "thickness": 1.4},
         "encoding": {
           "y": {"field": "angle", "type": "nominal", "title": null, "scale": {"domain": ["0 Deg","22.5 Deg","45 Deg"], "paddingInner": 0.1, "paddingOuter": 0.05}},
           "x": {"field": "right", "type": "quantitative", "title": null, "scale": {"domain": [0, 1500], "range": [19, 227]}}
         }},
        {"data": {"name": "botbr"}, "transform": [{"filter": "datum.panel==='Lpar'"}],
         "mark": {"type": "text", "text": "*", "fontSize": 14, "fontWeight": "bold", "dy": 6, "baseline": "alphabetic", "color": "#222", "clip": true},
         "encoding": {
           "y": {"field": "angle", "type": "nominal", "title": null, "scale": {"domain": ["0 Deg","22.5 Deg","45 Deg"], "paddingInner": 0.1, "paddingOuter": 0.05}},
           "x": {"field": "star", "type": "quantitative", "title": null, "scale": {"domain": [0, 1500], "range": [19, 227]}}
         }}
      ]
    },
    {
      "width": 210, "height": 118,
      "title": {"text": "High ε (kPa)", "subtitle": "∥ Stiffness", "anchor": "middle", "frame": "group", "dx": -9, "fontSize": 18, "subtitleFontSize": 14.5, "subtitlePadding": 10, "offset": -2},
      "layer": [
        {"data": {"name": "bot"}, "transform": [{"filter": "datum.panel==='Hpar'"}],
         "mark": {"type": "bar"},
         "encoding": {
           "y": {"field": "angle", "type": "nominal", "title": null, "scale": {"domain": ["0 Deg","22.5 Deg","45 Deg"], "paddingInner": 0.1, "paddingOuter": 0.05}, "axis": {"title": null, "tickBand": "extent", "tickSize": 5, "labelPadding": 4}},
           "yOffset": {"field": "tissue", "type": "nominal", "scale": {"domain": ["Leaflet","Conduit"]}},
           "x": {"field": "value", "type": "quantitative", "title": null, "scale": {"domain": [0, 4500]}, "axis": {"values": [0,1000,2000,3000,4000], "format": "d", "tickSize": 5, "title": null}},
           "color": {"field": "series", "type": "nominal", "scale": {"domain": ["Leaflet ∥","Conduit ∥","Leaflet ⊥","Conduit ⊥"], "range": ["#0b0bf2","#2f76c6","#c20000","#ef4d1d"]}, "legend": {"orient": "none", "legendX": -30, "legendY": 344, "direction": "horizontal", "title": "60/40% P4HB/Gel Scaffold:", "titleOrient": "left", "titleFontSize": 12, "titleFontWeight": "bold", "titlePadding": 6, "titleLimit": 300, "titleAnchor": "middle", "titleBaseline": "middle", "symbolType": "square", "symbolSize": 310, "labelExpr": "split(datum.label, ' ')[0]", "labelFontSize": 11, "labelFontWeight": "bold", "columnPadding": 14, "labelOffset": 6}}
         }},
        {"data": {"name": "bot"}, "transform": [{"filter": "datum.panel==='Hpar'"}],
         "mark": {"type": "rule", "color": "#1a1a2a", "strokeWidth": 1.2},
         "encoding": {
           "y": {"field": "angle", "type": "nominal", "title": null, "scale": {"domain": ["0 Deg","22.5 Deg","45 Deg"], "paddingInner": 0.1, "paddingOuter": 0.05}},
           "yOffset": {"field": "tissue", "type": "nominal", "scale": {"domain": ["Leaflet","Conduit"]}},
           "x": {"field": "lo", "type": "quantitative", "title": null, "scale": {"domain": [0, 4500]}},
           "x2": {"field": "hi"}
         }},
        {"data": {"name": "bot"}, "transform": [{"filter": "datum.panel==='Hpar'"}],
         "mark": {"type": "tick", "color": "#1a1a2a", "size": 7, "thickness": 1.2},
         "encoding": {
           "y": {"field": "angle", "type": "nominal", "title": null, "scale": {"domain": ["0 Deg","22.5 Deg","45 Deg"], "paddingInner": 0.1, "paddingOuter": 0.05}},
           "yOffset": {"field": "tissue", "type": "nominal", "scale": {"domain": ["Leaflet","Conduit"]}},
           "x": {"field": "lo", "type": "quantitative", "title": null, "scale": {"domain": [0, 4500]}}
         }},
        {"data": {"name": "bot"}, "transform": [{"filter": "datum.panel==='Hpar'"}],
         "mark": {"type": "tick", "color": "#1a1a2a", "size": 7, "thickness": 1.2},
         "encoding": {
           "y": {"field": "angle", "type": "nominal", "title": null, "scale": {"domain": ["0 Deg","22.5 Deg","45 Deg"], "paddingInner": 0.1, "paddingOuter": 0.05}},
           "yOffset": {"field": "tissue", "type": "nominal", "scale": {"domain": ["Leaflet","Conduit"]}},
           "x": {"field": "hi", "type": "quantitative", "title": null, "scale": {"domain": [0, 4500]}}
         }},
        {"data": {"name": "botbr"}, "transform": [{"filter": "datum.panel==='Hpar'"}],
         "mark": {"type": "rule", "color": "#333", "strokeWidth": 1.3},
         "encoding": {
           "y": {"field": "angle", "type": "nominal", "title": null, "scale": {"domain": ["0 Deg","22.5 Deg","45 Deg"], "paddingInner": 0.1, "paddingOuter": 0.05}},
           "yOffset": {"datum": "Leaflet", "scale": {"domain": ["Leaflet","Conduit"]}},
           "x": {"field": "left", "type": "quantitative", "title": null, "scale": {"domain": [0, 4500]}},
           "x2": {"field": "right"}
         }},
        {"data": {"name": "botbr"}, "transform": [{"filter": "datum.panel==='Hpar'"}],
         "mark": {"type": "rule", "color": "#333", "strokeWidth": 1.3},
         "encoding": {
           "y": {"field": "angle", "type": "nominal", "title": null, "scale": {"domain": ["0 Deg","22.5 Deg","45 Deg"], "paddingInner": 0.1, "paddingOuter": 0.05}},
           "yOffset": {"datum": "Conduit", "scale": {"domain": ["Leaflet","Conduit"]}},
           "x": {"field": "left", "type": "quantitative", "title": null, "scale": {"domain": [0, 4500]}},
           "x2": {"field": "right"}
         }},
        {"data": {"name": "botbr"}, "transform": [{"filter": "datum.panel==='Hpar'"}],
         "mark": {"type": "tick", "color": "#333", "size": 18, "thickness": 1.4},
         "encoding": {
           "y": {"field": "angle", "type": "nominal", "title": null, "scale": {"domain": ["0 Deg","22.5 Deg","45 Deg"], "paddingInner": 0.1, "paddingOuter": 0.05}},
           "x": {"field": "right", "type": "quantitative", "title": null, "scale": {"domain": [0, 4500]}}
         }},
        {"data": {"name": "botbr"}, "transform": [{"filter": "datum.panel==='Hpar'"}],
         "mark": {"type": "text", "text": "*", "fontSize": 14, "fontWeight": "bold", "dy": 6, "baseline": "alphabetic", "color": "#222", "clip": true},
         "encoding": {
           "y": {"field": "angle", "type": "nominal", "title": null, "scale": {"domain": ["0 Deg","22.5 Deg","45 Deg"], "paddingInner": 0.1, "paddingOuter": 0.05}},
           "x": {"field": "star", "type": "quantitative", "title": null, "scale": {"domain": [0, 4500]}}
         }}
      ]
    },
    {
      "width": 227, "height": 118,
      "title": {"text": "⊥ Stiffness", "anchor": "middle", "frame": "group", "dx": 4.5, "fontSize": 14.5, "offset": 1},
      "layer": [
        {"data": {"name": "bot"}, "transform": [{"filter": "datum.panel==='Lperp'"}],
         "mark": {"type": "bar"},
         "encoding": {
           "y": {"field": "angle", "type": "nominal", "title": null, "scale": {"domain": ["0 Deg","22.5 Deg","45 Deg"], "paddingInner": 0.1, "paddingOuter": 0.05}, "axis": {"title": null, "tickBand": "extent", "tickSize": 5, "labelPadding": 4, "offset": -19}},
           "yOffset": {"field": "tissue", "type": "nominal", "scale": {"domain": ["Leaflet","Conduit"]}},
           "x": {"field": "value", "type": "quantitative", "title": null, "scale": {"domain": [0, 1500], "range": [19, 227]}, "axis": {"values": [0,500,1000,1500], "format": "d", "tickSize": 5, "title": null}},
           "color": {"field": "series", "type": "nominal", "scale": {"domain": ["Leaflet ∥","Conduit ∥","Leaflet ⊥","Conduit ⊥"], "range": ["#0b0bf2","#2f76c6","#c20000","#ef4d1d"]}, "legend": {"orient": "none", "legendX": -30, "legendY": 344, "direction": "horizontal", "title": "60/40% P4HB/Gel Scaffold:", "titleOrient": "left", "titleFontSize": 12, "titleFontWeight": "bold", "titlePadding": 6, "titleLimit": 300, "titleAnchor": "middle", "titleBaseline": "middle", "symbolType": "square", "symbolSize": 310, "labelExpr": "split(datum.label, ' ')[0]", "labelFontSize": 11, "labelFontWeight": "bold", "columnPadding": 14, "labelOffset": 6}}
         }},
        {"data": {"name": "bot"}, "transform": [{"filter": "datum.panel==='Lperp'"}],
         "mark": {"type": "rule", "color": "#1a1a2a", "strokeWidth": 1.2},
         "encoding": {
           "y": {"field": "angle", "type": "nominal", "title": null, "scale": {"domain": ["0 Deg","22.5 Deg","45 Deg"], "paddingInner": 0.1, "paddingOuter": 0.05}},
           "yOffset": {"field": "tissue", "type": "nominal", "scale": {"domain": ["Leaflet","Conduit"]}},
           "x": {"field": "lo", "type": "quantitative", "title": null, "scale": {"domain": [0, 1500], "range": [19, 227]}},
           "x2": {"field": "hi"}
         }},
        {"data": {"name": "bot"}, "transform": [{"filter": "datum.panel==='Lperp'"}],
         "mark": {"type": "tick", "color": "#1a1a2a", "size": 7, "thickness": 1.2},
         "encoding": {
           "y": {"field": "angle", "type": "nominal", "title": null, "scale": {"domain": ["0 Deg","22.5 Deg","45 Deg"], "paddingInner": 0.1, "paddingOuter": 0.05}},
           "yOffset": {"field": "tissue", "type": "nominal", "scale": {"domain": ["Leaflet","Conduit"]}},
           "x": {"field": "lo", "type": "quantitative", "title": null, "scale": {"domain": [0, 1500], "range": [19, 227]}}
         }},
        {"data": {"name": "bot"}, "transform": [{"filter": "datum.panel==='Lperp'"}],
         "mark": {"type": "tick", "color": "#1a1a2a", "size": 7, "thickness": 1.2},
         "encoding": {
           "y": {"field": "angle", "type": "nominal", "title": null, "scale": {"domain": ["0 Deg","22.5 Deg","45 Deg"], "paddingInner": 0.1, "paddingOuter": 0.05}},
           "yOffset": {"field": "tissue", "type": "nominal", "scale": {"domain": ["Leaflet","Conduit"]}},
           "x": {"field": "hi", "type": "quantitative", "title": null, "scale": {"domain": [0, 1500], "range": [19, 227]}}
         }},
        {"data": {"name": "botbr"}, "transform": [{"filter": "datum.panel==='Lperp'"}],
         "mark": {"type": "rule", "color": "#333", "strokeWidth": 1.3},
         "encoding": {
           "y": {"field": "angle", "type": "nominal", "title": null, "scale": {"domain": ["0 Deg","22.5 Deg","45 Deg"], "paddingInner": 0.1, "paddingOuter": 0.05}},
           "yOffset": {"datum": "Leaflet", "scale": {"domain": ["Leaflet","Conduit"]}},
           "x": {"field": "left", "type": "quantitative", "title": null, "scale": {"domain": [0, 1500], "range": [19, 227]}},
           "x2": {"field": "right"}
         }},
        {"data": {"name": "botbr"}, "transform": [{"filter": "datum.panel==='Lperp'"}],
         "mark": {"type": "rule", "color": "#333", "strokeWidth": 1.3},
         "encoding": {
           "y": {"field": "angle", "type": "nominal", "title": null, "scale": {"domain": ["0 Deg","22.5 Deg","45 Deg"], "paddingInner": 0.1, "paddingOuter": 0.05}},
           "yOffset": {"datum": "Conduit", "scale": {"domain": ["Leaflet","Conduit"]}},
           "x": {"field": "left", "type": "quantitative", "title": null, "scale": {"domain": [0, 1500], "range": [19, 227]}},
           "x2": {"field": "right"}
         }},
        {"data": {"name": "botbr"}, "transform": [{"filter": "datum.panel==='Lperp'"}],
         "mark": {"type": "tick", "color": "#333", "size": 18, "thickness": 1.4},
         "encoding": {
           "y": {"field": "angle", "type": "nominal", "title": null, "scale": {"domain": ["0 Deg","22.5 Deg","45 Deg"], "paddingInner": 0.1, "paddingOuter": 0.05}},
           "x": {"field": "right", "type": "quantitative", "title": null, "scale": {"domain": [0, 1500], "range": [19, 227]}}
         }},
        {"data": {"name": "botbr"}, "transform": [{"filter": "datum.panel==='Lperp'"}],
         "mark": {"type": "text", "text": "*", "fontSize": 14, "fontWeight": "bold", "dy": 6, "baseline": "alphabetic", "color": "#222", "clip": true},
         "encoding": {
           "y": {"field": "angle", "type": "nominal", "title": null, "scale": {"domain": ["0 Deg","22.5 Deg","45 Deg"], "paddingInner": 0.1, "paddingOuter": 0.05}},
           "x": {"field": "star", "type": "quantitative", "title": null, "scale": {"domain": [0, 1500], "range": [19, 227]}}
         }}
      ]
    },
    {
      "width": 210, "height": 118,
      "title": {"text": "⊥ Stiffness", "anchor": "middle", "frame": "group", "dx": -9, "fontSize": 14.5, "offset": 1},
      "layer": [
        {"data": {"name": "bot"}, "transform": [{"filter": "datum.panel==='Hperp'"}],
         "mark": {"type": "bar"},
         "encoding": {
           "y": {"field": "angle", "type": "nominal", "title": null, "scale": {"domain": ["0 Deg","22.5 Deg","45 Deg"], "paddingInner": 0.1, "paddingOuter": 0.05}, "axis": {"title": null, "tickBand": "extent", "tickSize": 5, "labelPadding": 4}},
           "yOffset": {"field": "tissue", "type": "nominal", "scale": {"domain": ["Leaflet","Conduit"]}},
           "x": {"field": "value", "type": "quantitative", "title": null, "scale": {"domain": [0, 4500]}, "axis": {"values": [0,1000,2000,3000,4000], "format": "d", "tickSize": 5, "title": null}},
           "color": {"field": "series", "type": "nominal", "scale": {"domain": ["Leaflet ∥","Conduit ∥","Leaflet ⊥","Conduit ⊥"], "range": ["#0b0bf2","#2f76c6","#c20000","#ef4d1d"]}, "legend": {"orient": "none", "legendX": -30, "legendY": 344, "direction": "horizontal", "title": "60/40% P4HB/Gel Scaffold:", "titleOrient": "left", "titleFontSize": 12, "titleFontWeight": "bold", "titlePadding": 6, "titleLimit": 300, "titleAnchor": "middle", "titleBaseline": "middle", "symbolType": "square", "symbolSize": 310, "labelExpr": "split(datum.label, ' ')[0]", "labelFontSize": 11, "labelFontWeight": "bold", "columnPadding": 14, "labelOffset": 6}}
         }},
        {"data": {"name": "bot"}, "transform": [{"filter": "datum.panel==='Hperp'"}],
         "mark": {"type": "rule", "color": "#1a1a2a", "strokeWidth": 1.2},
         "encoding": {
           "y": {"field": "angle", "type": "nominal", "title": null, "scale": {"domain": ["0 Deg","22.5 Deg","45 Deg"], "paddingInner": 0.1, "paddingOuter": 0.05}},
           "yOffset": {"field": "tissue", "type": "nominal", "scale": {"domain": ["Leaflet","Conduit"]}},
           "x": {"field": "lo", "type": "quantitative", "title": null, "scale": {"domain": [0, 4500]}},
           "x2": {"field": "hi"}
         }},
        {"data": {"name": "bot"}, "transform": [{"filter": "datum.panel==='Hperp'"}],
         "mark": {"type": "tick", "color": "#1a1a2a", "size": 7, "thickness": 1.2},
         "encoding": {
           "y": {"field": "angle", "type": "nominal", "title": null, "scale": {"domain": ["0 Deg","22.5 Deg","45 Deg"], "paddingInner": 0.1, "paddingOuter": 0.05}},
           "yOffset": {"field": "tissue", "type": "nominal", "scale": {"domain": ["Leaflet","Conduit"]}},
           "x": {"field": "lo", "type": "quantitative", "title": null, "scale": {"domain": [0, 4500]}}
         }},
        {"data": {"name": "bot"}, "transform": [{"filter": "datum.panel==='Hperp'"}],
         "mark": {"type": "tick", "color": "#1a1a2a", "size": 7, "thickness": 1.2},
         "encoding": {
           "y": {"field": "angle", "type": "nominal", "title": null, "scale": {"domain": ["0 Deg","22.5 Deg","45 Deg"], "paddingInner": 0.1, "paddingOuter": 0.05}},
           "yOffset": {"field": "tissue", "type": "nominal", "scale": {"domain": ["Leaflet","Conduit"]}},
           "x": {"field": "hi", "type": "quantitative", "title": null, "scale": {"domain": [0, 4500]}}
         }},
        {"data": {"name": "botbr"}, "transform": [{"filter": "datum.panel==='Hperp'"}],
         "mark": {"type": "rule", "color": "#333", "strokeWidth": 1.3},
         "encoding": {
           "y": {"field": "angle", "type": "nominal", "title": null, "scale": {"domain": ["0 Deg","22.5 Deg","45 Deg"], "paddingInner": 0.1, "paddingOuter": 0.05}},
           "yOffset": {"datum": "Leaflet", "scale": {"domain": ["Leaflet","Conduit"]}},
           "x": {"field": "left", "type": "quantitative", "title": null, "scale": {"domain": [0, 4500]}},
           "x2": {"field": "right"}
         }},
        {"data": {"name": "botbr"}, "transform": [{"filter": "datum.panel==='Hperp'"}],
         "mark": {"type": "rule", "color": "#333", "strokeWidth": 1.3},
         "encoding": {
           "y": {"field": "angle", "type": "nominal", "title": null, "scale": {"domain": ["0 Deg","22.5 Deg","45 Deg"], "paddingInner": 0.1, "paddingOuter": 0.05}},
           "yOffset": {"datum": "Conduit", "scale": {"domain": ["Leaflet","Conduit"]}},
           "x": {"field": "left", "type": "quantitative", "title": null, "scale": {"domain": [0, 4500]}},
           "x2": {"field": "right"}
         }},
        {"data": {"name": "botbr"}, "transform": [{"filter": "datum.panel==='Hperp'"}],
         "mark": {"type": "tick", "color": "#333", "size": 18, "thickness": 1.4},
         "encoding": {
           "y": {"field": "angle", "type": "nominal", "title": null, "scale": {"domain": ["0 Deg","22.5 Deg","45 Deg"], "paddingInner": 0.1, "paddingOuter": 0.05}},
           "x": {"field": "right", "type": "quantitative", "title": null, "scale": {"domain": [0, 4500]}}
         }},
        {"data": {"name": "botbr"}, "transform": [{"filter": "datum.panel==='Hperp'"}],
         "mark": {"type": "text", "text": "*", "fontSize": 14, "fontWeight": "bold", "dy": 6, "baseline": "alphabetic", "color": "#222", "clip": true},
         "encoding": {
           "y": {"field": "angle", "type": "nominal", "title": null, "scale": {"domain": ["0 Deg","22.5 Deg","45 Deg"], "paddingInner": 0.1, "paddingOuter": 0.05}},
           "x": {"field": "star", "type": "quantitative", "title": null, "scale": {"domain": [0, 4500]}}
         }}
      ]
    }
  ]
}
]
}
